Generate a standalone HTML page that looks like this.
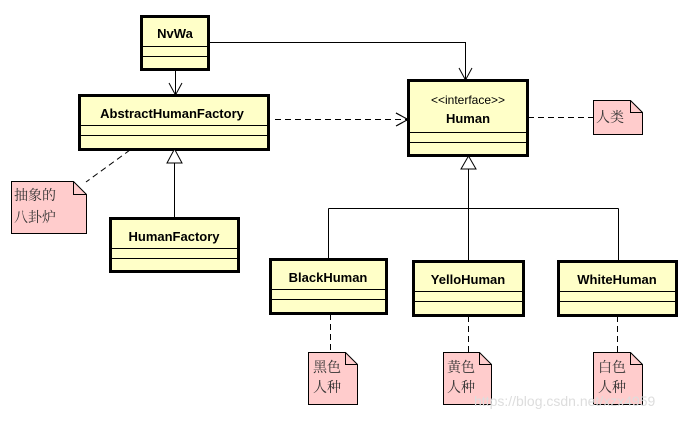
<!DOCTYPE html>
<html><head><meta charset="utf-8"><style>
body{margin:0;background:#fff;}
svg text{font-family:"Liberation Sans",sans-serif;}
.cn{font-family:"Liberation Serif","Noto Serif CJK SC",serif;font-size:14px;fill:#333;}
</style></head><body>
<svg width="689" height="420" xmlns="http://www.w3.org/2000/svg">
<g fill="#ffffc8" stroke="#000" stroke-width="3">
<rect x="141.5" y="16.5" width="67" height="53"/>
<rect x="79.5" y="95.5" width="189" height="54"/>
<rect x="110.5" y="218.5" width="128" height="53"/>
<rect x="408.5" y="80.5" width="119" height="75"/>
<rect x="270.5" y="259.5" width="116" height="54"/>
<rect x="413.5" y="261.5" width="110" height="54"/>
<rect x="558.5" y="261.5" width="118" height="54"/>
</g>
<g stroke="#000" stroke-width="1">
<path d="M142 46.5H208M142 56.5H208M81 125.5H267M81 135.5H267M112 248.5H237M112 258.5H237M410 132.5H526M410 142.5H526M272 289.5H385M272 299.5H385M415 291.5H522M415 301.5H522M560 291.5H675M560 301.5H675"/>
</g>
<g font-weight="bold" font-size="13" text-anchor="middle" fill="#000">
<text x="175" y="38">NvWa</text>
<text x="172" y="118">AbstractHumanFactory</text>
<text x="174" y="241">HumanFactory</text>
<text x="468" y="123">Human</text>
<text x="328" y="282">BlackHuman</text>
<text x="468" y="284">YelloHuman</text>
<text x="617" y="284">WhiteHuman</text>
</g>
<text x="468" y="104" font-size="12" text-anchor="middle">&lt;&lt;interface&gt;&gt;</text>
<g stroke="#000" fill="none" stroke-width="1">
<path d="M175.5 70V95M169 83L175.5 95L182 83"/>
<path d="M209 42.5H465.5V80M459 68L465.5 80L472 68"/>
<path d="M275 119.5H408M396 113L408 119.5L396 126" stroke-dasharray="6,4"/>
<path d="M396 113L408 119.5L396 126"/>
<path d="M174.5 163V218"/>
<path d="M174.5 149L167 163H182Z" fill="#fff"/>
<path d="M468.5 169V261M328.5 208.5H618.5M328.5 208.5V259M618.5 208.5V261"/>
<path d="M468.5 156L461 169H476Z" fill="#fff"/>
<g stroke-dasharray="6,4">
<path d="M130 150L86 182"/>
<path d="M528 117.5H593"/>
<path d="M330.5 314V352M468.5 316V352M617.5 316V352"/>
</g>
</g>
<g fill="#ffcccc" stroke="#000" stroke-width="1">
<path d="M11.5 181.5H73.5L86.5 194.5V233.5H11.5Z"/>
<path d="M593.5 100.5H630.5L642.5 112.5V134.5H593.5Z"/>
<path d="M308.5 352.5H345.5L357.5 364.5V404.5H308.5Z"/>
<path d="M443.5 352.5H479.5L491.5 364.5V404.5H443.5Z"/>
<path d="M593.5 352.5H630.5L642.5 364.5V404.5H593.5Z"/>
</g>
<g fill="none" stroke="#000"><path d="M73.5 181.5V194.5H86.5M630.5 100.5V112.5H642.5M345.5 352.5V364.5H357.5M479.5 352.5V364.5H491.5M630.5 352.5V364.5H642.5"/></g>
<text class="cn" x="14" y="200">抽象的</text><text class="cn" x="14" y="222">八卦炉</text>
<text class="cn" x="596" y="122">人类</text>
<text class="cn" x="313" y="372">黑色</text><text class="cn" x="313" y="392">人种</text>
<text class="cn" x="447" y="372">黄色</text><text class="cn" x="447" y="392">人种</text>
<text class="cn" x="598" y="372">白色</text><text class="cn" x="598" y="392">人种</text>
<text x="474" y="406" font-size="14" fill="#ddd">https://blog.csdn.net/xzx4959</text>
</svg>
</body></html>
